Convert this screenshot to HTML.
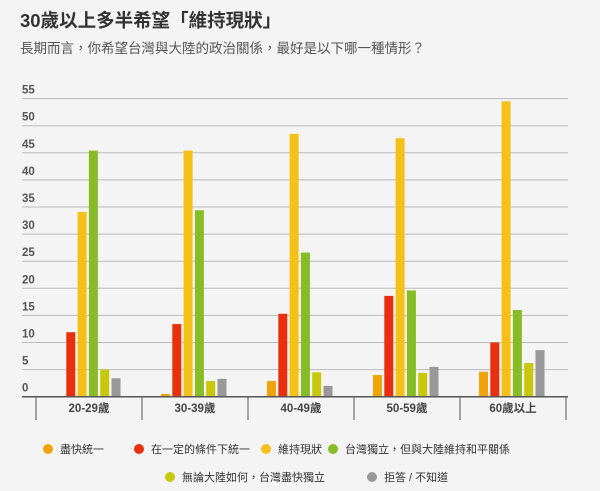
<!DOCTYPE html>
<html><head><meta charset="utf-8"><style>
body{margin:0;background:#f4f4f4;width:600px;height:491px;overflow:hidden;font-family:"Liberation Sans","Noto Sans CJK TC",sans-serif;}
</style></head><body>
<svg id="c" width="600" height="491" style="position:absolute;left:0;top:0">
<text x="20" y="27" font-size="18.5" font-weight="bold" fill="#333">30歲以上多半希望「維持現狀」</text>
<text x="20" y="53" font-size="13.5" fill="#555">長期而言，你希望台灣與大陸的政治關係，最好是以下哪一種情形？</text>
<g id="grid"></g><g id="bars"></g><g id="xaxis"></g><g id="legend"></g>
</svg>
<script>
const categories=["20-29歲","30-39歲","40-49歲","50-59歲","60歲以上"];
const seriesNames=["盡快統一","在一定的條件下統一","維持現狀","台灣獨立，但與大陸維持和平關係","無論大陸如何，台灣盡快獨立","拒答 / 不知道"];
const colors=["#f0a30a","#e8300e","#f5c018","#86bc25","#c8c80a","#999999"];
const s0=[0,0.5,2.9,4.0,4.6];
const s1=[11.9,13.4,15.3,18.6,10.0];
const s2=[34.1,45.4,48.5,47.7,54.5];
const s3=[45.4,34.4,26.6,19.6,16.0];
const s4=[5.0,2.9,4.5,4.4,6.2];
const s5=[3.4,3.3,2.0,5.5,8.6];
const series=[s0,s1,s2,s3,s4,s5];
const ticks=[0,5,10,15,20,25,30,35,40,45,50,55];
const NS="http://www.w3.org/2000/svg";
const y0=396.7,k=5.42,left=22,right=568,gx0=36,gw=106;
const y=v=>y0-v*k;
function el(t,a,p){const e=document.createElementNS(NS,t);for(const q in a)e.setAttribute(q,a[q]);p.appendChild(e);return e;}
const grid=document.getElementById('grid');
ticks.forEach(t=>{
 if(t>0){const l=el('line',{x1:left,x2:right,y1:y(t),y2:y(t),stroke:'#bbb','stroke-width':1},grid);
 
 }
 const tx=el('text',{x:left,y:y(t)-5,'font-size':11.5,'font-weight':'bold',fill:'#555'},grid);tx.textContent=t;
 
 
});
const bars=document.getElementById('bars');
categories.forEach((c,i)=>{
 const cx=gx0+gw*i+gw/2;
 series.forEach((s,j)=>{
  const x=cx-34+j*11.3;
  const r=el('rect',{x:x,y:y(s[i]),width:9,height:s[i]*k,fill:colors[j]},bars);
  
  
 });
});
const xa=document.getElementById('xaxis');
const ax=el('line',{x1:left,x2:right,y1:y0,y2:y0,stroke:'#555','stroke-width':1.5},xa);


for(let i=0;i<=categories.length;i++){const d=el('line',{x1:gx0+gw*i,x2:gx0+gw*i,y1:y0,y2:420,stroke:'#555','stroke-width':1},xa);
 
 }
categories.forEach((c,i)=>{const t=el('text',{x:gx0+gw*i+gw/2,y:412,'font-size':11.5,'font-weight':'bold',fill:'#444','text-anchor':'middle'},xa);t.textContent=c;
 
 });
const lg=document.getElementById('legend');
const lp=[[48,449],[139,449],[266,449],[333,449],[170,477],[372,477]];
seriesNames.forEach((n,j)=>{
 const g=el('g',{},lg);
 
 
 el('circle',{cx:lp[j][0],cy:lp[j][1],r:5,fill:colors[j]},g);
 const t=el('text',{x:lp[j][0]+12,y:lp[j][1]+4,'font-size':11,fill:'#333'},g);t.textContent=n;
});
</script>
</body></html>
